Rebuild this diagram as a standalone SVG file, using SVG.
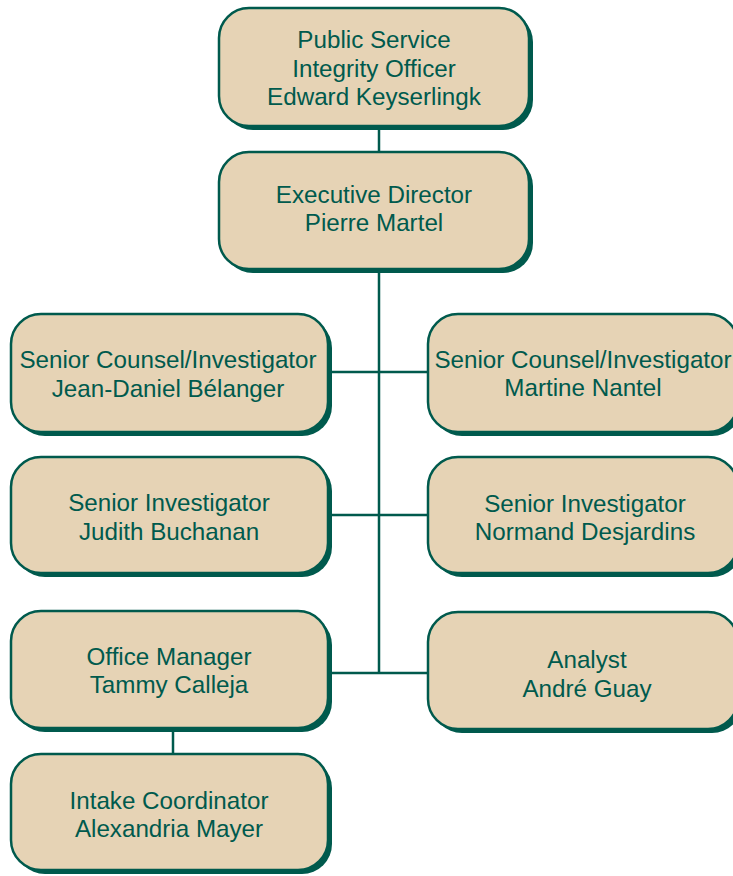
<svg xmlns="http://www.w3.org/2000/svg" width="733" height="876" viewBox="0 0 733 876">
<defs>
<style>
.sh{fill:#005a4d;}
.bx{fill:#e6d3b5;stroke:#005a4d;stroke-width:2.5;}
.t{font-family:"Liberation Sans",Arial,sans-serif;font-size:24.2px;fill:#005a4d;text-anchor:middle;}
.ln{stroke:#005a4d;stroke-width:2.5;fill:none;}
</style>
</defs>
<rect width="733" height="876" fill="#ffffff"/>
<g id="connectors">
<line class="ln" x1="379" y1="125" x2="379" y2="153"/>
<line class="ln" x1="379" y1="268" x2="379" y2="673"/>
<line class="ln" x1="330" y1="372" x2="428" y2="372"/>
<line class="ln" x1="330" y1="515" x2="428" y2="515"/>
<line class="ln" x1="330" y1="673" x2="428" y2="673"/>
<line class="ln" x1="173" y1="728" x2="173" y2="755"/>
</g>
<g id="psio">
<rect class="sh" x="223" y="12" width="310" height="118" rx="30"/>
<rect class="bx" x="219" y="8" width="310" height="118" rx="30"/>
<text class="t" x="374" y="48">Public Service</text>
<text class="t" x="374" y="77">Integrity Officer</text>
<text class="t" x="374" y="105">Edward Keyserlingk</text>
</g>
<g id="exec">
<rect class="sh" x="223" y="156" width="310" height="117" rx="30"/>
<rect class="bx" x="219" y="152" width="310" height="117" rx="30"/>
<text class="t" x="374" y="203">Executive Director</text>
<text class="t" x="374" y="231">Pierre Martel</text>
</g>
<g id="belanger">
<rect class="sh" x="15" y="318" width="317" height="118" rx="30"/>
<rect class="bx" x="11" y="314" width="317" height="118" rx="30"/>
<text class="t" x="168" y="368">Senior Counsel/Investigator</text>
<text class="t" x="168" y="397">Jean-Daniel Bélanger</text>
</g>
<g id="nantel">
<rect class="sh" x="432" y="318" width="310" height="118" rx="30"/>
<rect class="bx" x="428" y="314" width="310" height="118" rx="30"/>
<text class="t" x="583" y="368">Senior Counsel/Investigator</text>
<text class="t" x="583" y="396">Martine Nantel</text>
</g>
<g id="buchanan">
<rect class="sh" x="15" y="461" width="317" height="116" rx="30"/>
<rect class="bx" x="11" y="457" width="317" height="116" rx="30"/>
<text class="t" x="169" y="511">Senior Investigator</text>
<text class="t" x="169" y="540">Judith Buchanan</text>
</g>
<g id="desjardins">
<rect class="sh" x="432" y="461" width="310" height="116" rx="30"/>
<rect class="bx" x="428" y="457" width="310" height="116" rx="30"/>
<text class="t" x="585" y="512">Senior Investigator</text>
<text class="t" x="585" y="540">Normand Desjardins</text>
</g>
<g id="calleja">
<rect class="sh" x="15" y="615" width="317" height="117" rx="30"/>
<rect class="bx" x="11" y="611" width="317" height="117" rx="30"/>
<text class="t" x="169" y="665">Office Manager</text>
<text class="t" x="169" y="693">Tammy Calleja</text>
</g>
<g id="guay">
<rect class="sh" x="432" y="616" width="310" height="117" rx="30"/>
<rect class="bx" x="428" y="612" width="310" height="117" rx="30"/>
<text class="t" x="587" y="668">Analyst</text>
<text class="t" x="587" y="697">André Guay</text>
</g>
<g id="mayer">
<rect class="sh" x="15" y="758" width="317" height="116" rx="30"/>
<rect class="bx" x="11" y="754" width="317" height="116" rx="30"/>
<text class="t" x="169" y="809">Intake Coordinator</text>
<text class="t" x="169" y="837">Alexandria Mayer</text>
</g>
</svg>
